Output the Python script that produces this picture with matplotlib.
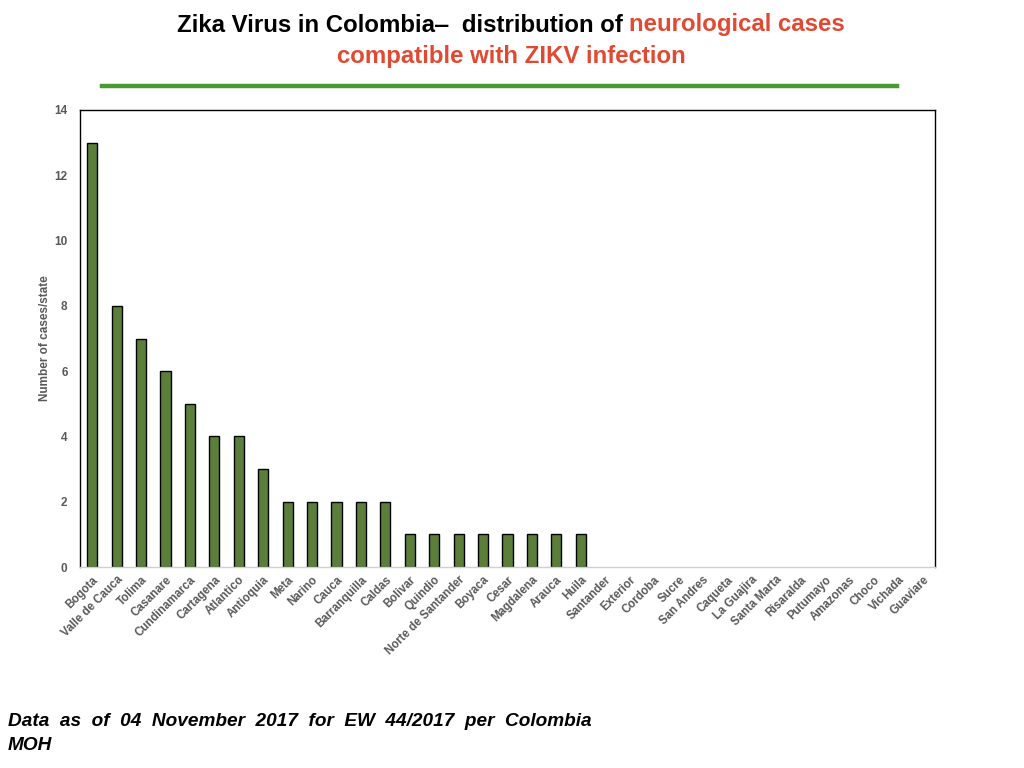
import matplotlib
matplotlib.use("Agg")
import matplotlib.pyplot as plt

states = ["Bogota", "Valle de Cauca", "Tolima", "Casanare", "Cundinamarca", "Cartagena",
          "Atlantico", "Antioquia", "Meta", "Narino", "Cauca", "Barranquilla", "Caldas",
          "Bolivar", "Quindio", "Norte de Santander", "Boyaca", "Cesar", "Magdalena",
          "Arauca", "Huila", "Santander", "Exterior", "Cordoba", "Sucre", "San Andres",
          "Caqueta", "La Guajira", "Santa Marta", "Risaralda", "Putumayo", "Amazonas",
          "Choco", "Vichada", "Guaviare"]
cases = [13, 8, 7, 6, 5, 4, 4, 3, 2, 2, 2, 2, 2, 1, 1, 1, 1, 1, 1, 1, 1,
         0, 0, 0, 0, 0, 0, 0, 0, 0, 0, 0, 0, 0, 0]
yticks = [0, 2, 4, 6, 8, 10, 12, 14]

plt.rcParams['font.family'] = ['Liberation Sans', 'DejaVu Sans']

fig = plt.figure(figsize=(10.24, 7.68), dpi=100)
W, H = 1024, 768
ax = fig.add_axes([80 / W, 1 - 567 / H, (935 - 80) / W, (567 - 110) / H])

x = list(range(len(states)))
lws = [1.0 if v > 0 else 0.0 for v in cases]
ax.bar(x, cases, width=0.42, color="#5B7F3A", edgecolor="black", linewidth=lws)
ax.set_xlim(-0.5, len(states) - 0.5)
ax.set_ylim(0, 14)
ax.set_yticks(yticks)
ax.set_yticklabels([str(v) for v in yticks], fontsize=8.5, fontweight='bold', color="#595959")
ax.set_xticks(x)
ax.set_xticklabels(states, rotation=45, ha='right', rotation_mode='anchor',
                   fontsize=8.3, fontweight='bold', color="#595959")
ax.tick_params(axis='y', length=0, pad=9)
ax.tick_params(axis='x', length=0, pad=5)
for s in ['left', 'top', 'right']:
    ax.spines[s].set_color('black')
    ax.spines[s].set_linewidth(1.0)
ax.spines['bottom'].set_color('#D0D0D0')
ax.spines['bottom'].set_linewidth(1.0)
ax.set_ylabel("Number of cases/state", fontsize=8.5, fontweight='bold', color="#595959", labelpad=2)

red = "#E04A33"
fs_title = 17.3
parts = [("Zika Virus in Colombia\u2012  distribution of ", "black"), ("neurological cases", red)]
fig.canvas.draw()
r = fig.canvas.get_renderer()
tmp = [fig.text(0, 0, p, fontsize=fs_title, fontweight='bold') for p, _ in parts]
widths = [t.get_window_extent(r).width for t in tmp]
for t in tmp:
    t.remove()
total = sum(widths)
xs = 511 - total / 2
for (p, c), w in zip(parts, widths):
    fig.text(xs / W, 1 - 25 / H, p, fontsize=fs_title, fontweight='bold', color=c, va='center', ha='left')
    xs += w
fig.text(511 / W, 1 - 57 / H, "compatible with ZIKV infection", fontsize=fs_title, fontweight='bold',
         color=red, va='center', ha='center')

fig.add_artist(plt.Line2D([102 / W, 897 / W], [1 - 86 / H, 1 - 86 / H], color="#4A9A32", linewidth=3.2))

fig.text(8 / W, 1 - 721 / H, "Data  as  of  04  November  2017  for  EW  44/2017  per  Colombia",
         fontsize=13.7, fontweight='bold', style='italic', va='center', ha='left')
fig.text(8 / W, 1 - 745 / H, "MOH", fontsize=13.7, fontweight='bold', style='italic', va='center', ha='left')

fig.savefig("out.png", dpi=100)
